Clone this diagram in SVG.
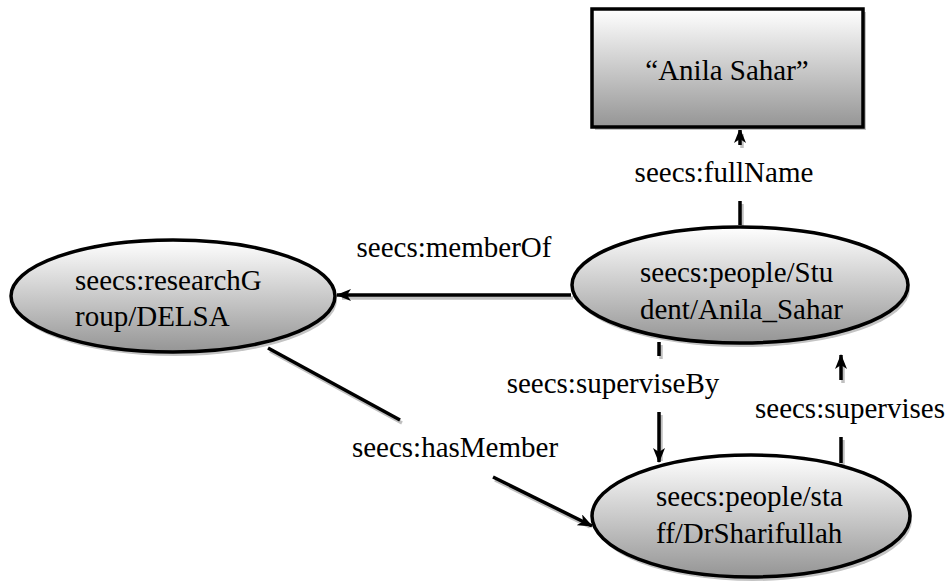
<svg xmlns="http://www.w3.org/2000/svg" width="948" height="586" viewBox="0 0 948 586">
<style>
text{font-family:'Times New Roman','Liberation Serif','DejaVu Serif',serif;font-size:29px;fill:#000}
.c{text-anchor:middle}
.node{fill:url(#g);stroke:#000;stroke-width:3.5}
.shadow{fill:#c4c4c4;stroke:none}
.ln{stroke:#000;stroke-width:3.5;fill:none}
.sh{stroke:#c0c0c0;stroke-width:3.5;fill:none}
</style>
<defs>
<linearGradient id="g" x1="0" y1="0" x2="0" y2="1">
<stop offset="0" stop-color="#ffffff"/>
<stop offset="1" stop-color="#959595"/>
</linearGradient>
<marker id="arr" markerWidth="16" markerHeight="12" refX="14" refY="6" orient="auto" markerUnits="userSpaceOnUse">
<path d="M0,0 L15,6 L0,12 L4,6 z" fill="#000"/>
</marker>
</defs>
<rect width="948" height="586" fill="#fff"/>

<g id="connectors">
<g id="e-fullName">
<g transform="translate(2,3)"><path class="sh" d="M740,225 V201 M740,145 V131"/></g>
<path class="ln" d="M740,225 V201"/>
<path class="ln" d="M740,145 V129" marker-end="url(#arr)"/>
<text class="c" x="724" y="182">seecs:fullName</text>
</g>
<g id="e-memberOf">
<g transform="translate(2,3)"><path class="sh" d="M571,295 H340"/></g>
<path class="ln" d="M571,295 H337" marker-end="url(#arr)"/>
<text class="c" x="454" y="257">seecs:memberOf</text>
</g>
<g id="e-superviseBy">
<g transform="translate(2,3)"><path class="sh" d="M659,342 V356 M659,412 V458"/></g>
<path class="ln" d="M659,342 V356"/>
<path class="ln" d="M659,412 V462" marker-end="url(#arr)"/>
<text class="c" x="613" y="393">seecs:superviseBy</text>
</g>
<g id="e-supervises">
<g transform="translate(2,3)"><path class="sh" d="M841,463 V437 M841,380 V360"/></g>
<path class="ln" d="M841,463 V437"/>
<path class="ln" d="M841,380 V355" marker-end="url(#arr)"/>
<text class="c" x="850" y="418">seecs:supervises</text>
</g>
<g id="e-hasMember">
<g transform="translate(2,3)"><path class="sh" d="M268,348 L400,420 M493,477 L588,524"/></g>
<path class="ln" d="M268,348 L400,420"/>
<path class="ln" d="M493,477 L592,526" marker-end="url(#arr)"/>
<text class="c" x="455" y="457">seecs:hasMember</text>
</g>
</g>

<g id="n-name">
<rect class="shadow" x="595" y="12" width="271" height="118"/>
<rect class="node" x="592" y="9" width="271" height="118"/>
<text class="c" x="727" y="80">“Anila Sahar”</text>
</g>

<g id="n-student">
<ellipse class="shadow" cx="742" cy="289" rx="168" ry="58"/>
<ellipse class="node" cx="740" cy="285" rx="168" ry="58"/>
<text x="640" y="282">seecs:people/Stu</text>
<text x="640" y="319">dent/Anila_Sahar</text>
</g>

<g id="n-delsa">
<ellipse class="shadow" cx="175" cy="300" rx="162" ry="56"/>
<ellipse class="node" cx="173" cy="296" rx="162" ry="56"/>
<text x="75" y="290">seecs:researchG</text>
<text x="75" y="326">roup/DELSA</text>
</g>

<g id="n-staff">
<ellipse class="shadow" cx="753" cy="520" rx="159" ry="61"/>
<ellipse class="node" cx="751" cy="516" rx="159" ry="61"/>
<text x="656" y="506">seecs:people/sta</text>
<text x="656" y="543">ff/DrSharifullah</text>
</g>
</svg>
